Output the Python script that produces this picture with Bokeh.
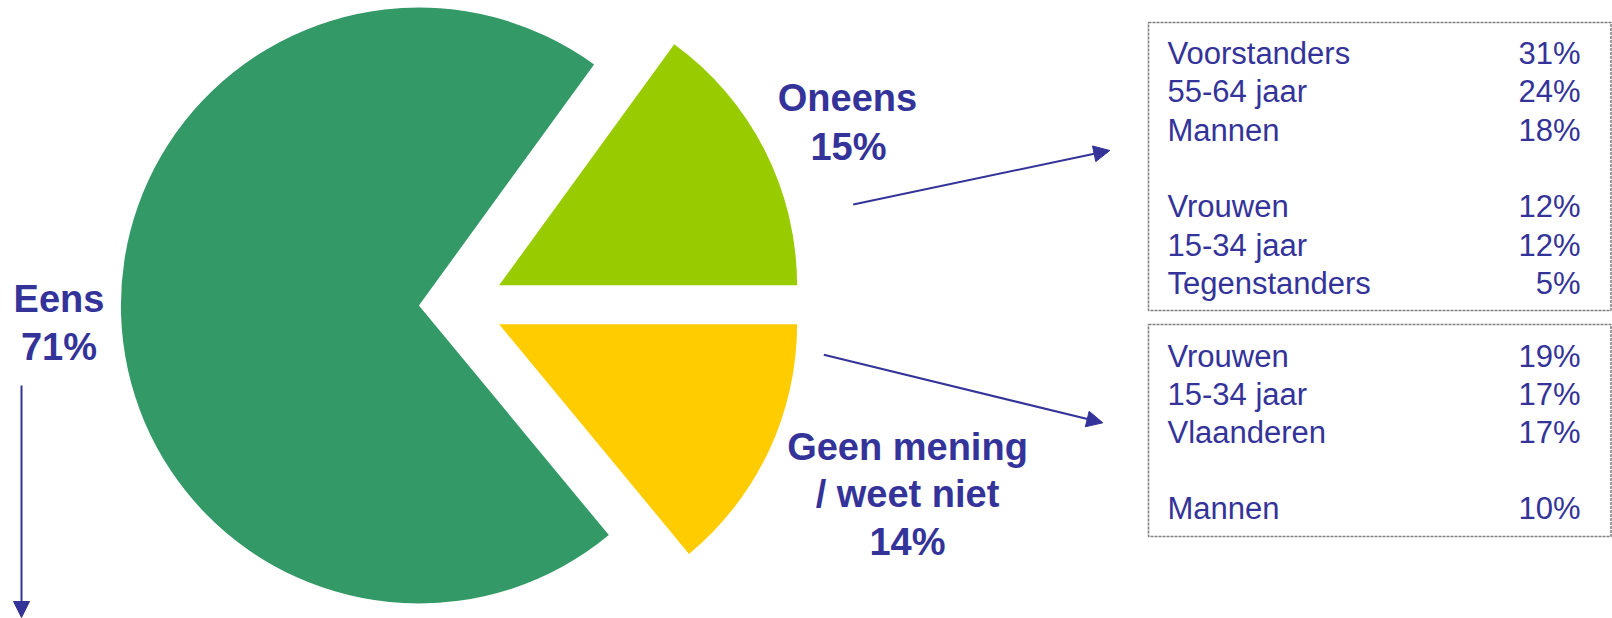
import math
from bokeh.plotting import figure
from bokeh.models import ColumnDataSource, Range1d, Arrow, NormalHead
from bokeh.core.properties import value
from bokeh.embed import file_html
from bokeh.resources import INLINE

# ---- data ----
categories = ["Eens", "Oneens", "Geen mening / weet niet"]
shares = [71, 15, 14]
pie_colors = ["#339966", "#99CC00", "#FFCC00"]

oneens_labels = ["Voorstanders", "55-64 jaar", "Mannen", "Vrouwen", "15-34 jaar", "Tegenstanders"]
oneens_values = [31, 24, 18, 12, 12, 5]
geen_labels = ["Vrouwen", "15-34 jaar", "Vlaanderen", "Mannen"]
geen_values = [19, 17, 17, 10]

# ---- layout ----
W, H = 1612, 618
BLUE = "#333399"
FONT = "Liberation Sans"
TXT_SHIFT = 10.5  # compensates baseline offset of text rendering


def X(fx):
    return fx


def Y(fy):
    return H - fy


def TY(fy):
    return H - (fy - TXT_SHIFT)


p = figure(width=W, height=H, output_backend="svg", toolbar_location=None,
           x_range=Range1d(0, W), y_range=Range1d(0, H), min_border=0)
p.axis.visible = False
p.grid.visible = False
p.outline_line_color = None
p.background_fill_color = "white"
p.border_fill_color = "white"

# pie wedges (angles from shares); exploded positions are layout
tot = sum(shares)
a_eens = shares[0] / tot * 2 * math.pi
a_on = shares[1] / tot * 2 * math.pi
a_gm = shares[2] / tot * 2 * math.pi
starts = [a_on, 0.0, -a_gm]
ends = [a_on + a_eens, a_on, 0.0]
centers_x = [X(418.4), X(498.6), X(498.6)]
centers_y = [Y(305.0), Y(284.8), Y(323.8)]
src = ColumnDataSource(dict(x=centers_x, y=centers_y, s=starts, e=ends, c=pie_colors))
p.wedge(x="x", y="y", radius=298, start_angle="s", end_angle="e",
        fill_color="c", line_color=None, source=src)

# pie labels
lab_fs = "38px"
big_labels = [
    ("Eens", 58.5, 309.0), (f"{shares[0]}%", 58.5, 357.0),
    ("Oneens", 847.0, 108.3), (f"{shares[1]}%", 848.0, 156.7),
    ("Geen mening", 907.0, 457.3), ("/ weet niet", 907.0, 504.0), (f"{shares[2]}%", 907.0, 551.7),
]
p.text(x=[X(b[1]) for b in big_labels], y=[TY(b[2]) for b in big_labels],
       text=[b[0] for b in big_labels], text_font=value(FONT), text_font_style="bold",
       text_font_size=lab_fs, text_color=BLUE, text_align="center", text_baseline="alphabetic")

# boxes
box_left, box_right = X(1148), X(1610.5)
p.quad(left=[box_left, box_left], right=[box_right, box_right],
       top=[Y(22), Y(324)], bottom=[Y(310), Y(536)],
       fill_color=None, line_color="#808080", line_width=1.6, line_dash="3 1")

row_fs = "31px"
b1_y = [63.3, 101.7, 140.0, 216.7, 255.0, 293.3]
b2_y = [366.0, 404.3, 442.7, 518.3]
ys = [TY(v) for v in b1_y + b2_y]
names = oneens_labels + geen_labels
vals = [f"{v}%" for v in oneens_values + geen_values]
p.text(x=[X(1167)] * len(ys), y=ys, text=names, text_font=value(FONT),
       text_font_size=row_fs, text_color=BLUE, text_align="left", text_baseline="alphabetic")
p.text(x=[X(1580)] * len(ys), y=ys, text=vals, text_font=value(FONT),
       text_font_size=row_fs, text_color=BLUE, text_align="right", text_baseline="alphabetic")

# arrows
arrows = [((852.7, 204.0), (1109.3, 150.0)),
          ((823.3, 354.3), (1102.3, 422.3)),
          ((21.0, 385.0), (21.0, 617.0))]
for (sx, sy), (ex, ey) in arrows:
    p.add_layout(Arrow(end=NormalHead(size=16, fill_color=BLUE, line_color=BLUE, line_width=1),
                       x_start=X(sx), y_start=Y(sy), x_end=X(ex), y_end=Y(ey),
                       line_color=BLUE, line_width=2))

open("out.html", "w").write(file_html(p, INLINE))
